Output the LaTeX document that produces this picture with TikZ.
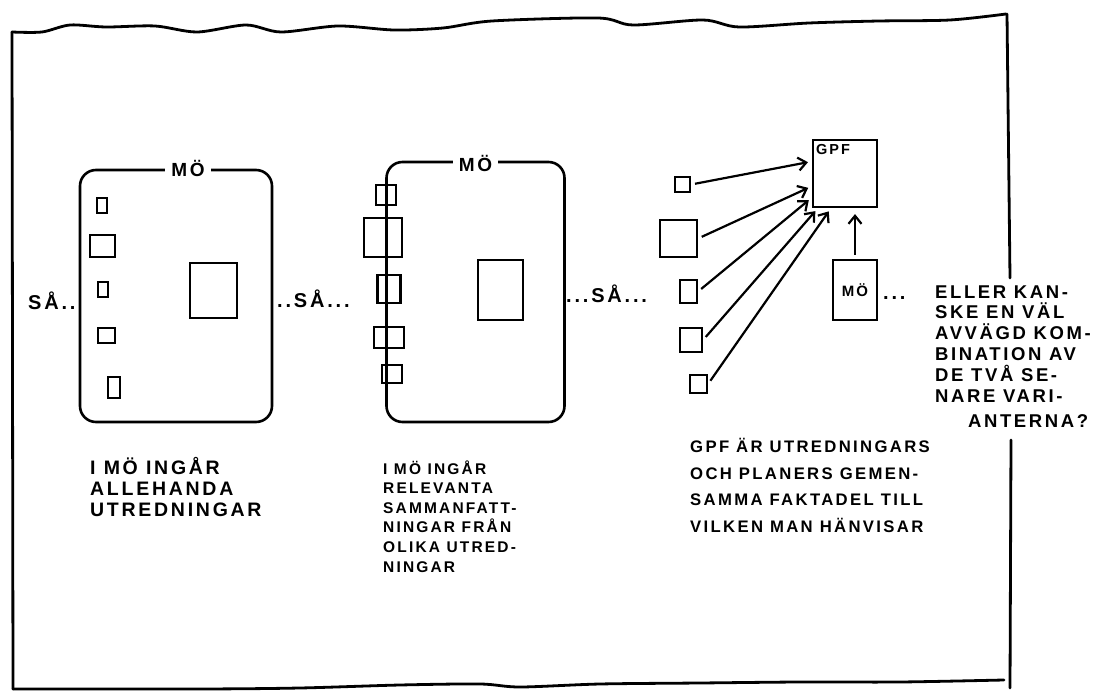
\documentclass[tikz,border=0pt]{standalone}
\usepackage{fontspec}
\setmainfont{Liberation Sans}
\newfontfamily\hand[LetterSpace=14]{Liberation Sans}
\usetikzlibrary{arrows.meta, positioning}

\begin{document}
\begin{tikzpicture}[x=1pt, y=-1pt,
        node distance=4pt and 5pt,
        sheet/.style={line width=2.8pt, line cap=round, line join=round},
        mobox/.style={rectangle, draw, rounded corners=16pt, line width=2.6pt, inner sep=0pt},
        doc/.style={rectangle, draw, line width=2.2pt, inner sep=0pt},
        tag/.style={fill=white, inner xsep=6pt, inner ysep=1pt, font=\hand\bfseries\fontsize{19}{21}\selectfont},
        dots/.style={anchor=base west, inner sep=0pt, font=\hand\bfseries\fontsize{20}{22}\selectfont},
        note/.style={anchor=base west, align=left, inner sep=0pt},
        arrow/.style={-{Straight Barb[length=8pt, width=13pt]}, line width=2.2pt, shorten <=4pt, shorten >=4pt}
    ]
        \useasboundingbox (0,0) rectangle (1103,692);

        % the sheet
        \draw[sheet] plot[smooth, tension=0.5] coordinates {(12,32) (42,32) (70,25) (106,27) (155,26) (197,32) (246,25) (281,32) (338,26) (394,30) (443,28) (492,21) (598,18) (633,25) (703,20) (739,27) (809,23) (879,21) (950,20) (1006,14)};
        \draw[sheet] (12,32) -- (13,689);
        \draw[sheet] plot[smooth, tension=0.5] coordinates {(13,689) (200,689) (300,688) (400,685) (480,684) (520,687) (600,684) (700,683) (800,682) (900,682) (1004,680)};
        \draw[sheet] (1007,14) -- (1010,278);
        \draw[sheet] (1011,440) -- (1010,688);

        % first variant
        \node[mobox, minimum width=192pt, minimum height=252pt] (mo1) at (176,296) {};
        \node[tag] (mo1lbl) at ([xshift=12pt]mo1.north) {MÖ};
        \node[doc, minimum width=47pt, minimum height=55pt] (core1) at (213.5,290.5) {};
        \node[doc, minimum width=10pt, minimum height=15pt] (a1) at (102,205.5) {};
        \node[doc, minimum width=25pt, minimum height=22pt] (a2) at (102.5,246) {};
        \node[doc, minimum width=10pt, minimum height=15pt] (a3) at (103,289.5) {};
        \node[doc, minimum width=17pt, minimum height=15pt] (a4) at (106.5,335.5) {};
        \node[doc, minimum width=12pt, minimum height=21pt] (a5) at (114,387.5) {};
        \node[dots] (so1) at (28,310) {SÅ..};
        \node[note, font=\hand\bfseries\fontsize{19.5}{21}\selectfont] (txt1) at (90,516) {I MÖ INGÅR\\ALLEHANDA\\UTREDNINGAR};

        % second variant
        \node[mobox, minimum width=178pt, minimum height=260pt] (mo2) at (475.5,292) {};
        \node[tag] (mo2lbl) at ([yshift=-3pt]mo2.north) {MÖ};
        \node[doc, minimum width=45pt, minimum height=60pt] (core2) at (500.5,290) {};
        \node[doc, minimum width=20pt, minimum height=20pt] (b1) at (386,195) {};
        \node[doc, minimum width=38pt, minimum height=39pt] (b2) at (383,237.5) {};
        \node[doc, minimum width=23pt, minimum height=28pt] (b3) at (389,289) {};
        \node[doc, minimum width=30pt, minimum height=21pt] (b4) at (389,337.5) {};
        \node[doc, minimum width=20pt, minimum height=18pt] (b5) at (392,374) {};
        \node[dots] (so2) at (277,308) {..SÅ...};
        \node[note, font=\hand\bfseries\fontsize{15.5}{19.6}\selectfont] (txt2) at (383,572) {I MÖ INGÅR\\RELEVANTA\\SAMMANFATT-\\NINGAR FRÅN\\OLIKA UTRED-\\NINGAR};

        % third variant
        \node[doc, minimum width=64pt, minimum height=67pt] (gpf) at (845,173.5) {};
        \node[below right=5pt and 4pt of gpf.north west, inner sep=0pt, font=\hand\bfseries\fontsize{14.5}{16}\selectfont] (gpflbl) {GPF};
        \node[doc, minimum width=44pt, minimum height=60pt, font=\hand\bfseries\fontsize{15}{16}\selectfont] (mo3) at (855,290) {MÖ};
        \node[doc, minimum width=15pt, minimum height=15pt] (c1) at (682.5,184.5) {};
        \node[doc, minimum width=37pt, minimum height=37pt] (c2) at (678.5,238.5) {};
        \node[doc, minimum width=17pt, minimum height=23pt] (c3) at (688.5,291.5) {};
        \node[doc, minimum width=22pt, minimum height=24pt] (c4) at (691,340) {};
        \node[doc, minimum width=17pt, minimum height=18pt] (c5) at (698.5,384) {};
        \node[dots] (so3) at (566,303) {...SÅ...};
        \node[note, font=\hand\bfseries\fontsize{16.7}{26.5}\selectfont] (txt3) at (690,532) {GPF ÄR UTREDNINGARS\\OCH PLANERS GEMEN-\\SAMMA FAKTADEL TILL\\VILKEN MAN HÄNVISAR};

        \draw[arrow] (c1.east) -- (gpf.160);
        \draw[arrow] (c2.east) -- (gpf.201);
        \draw[arrow] (c3.east) -- (gpf.216);
        \draw[arrow] (c4.east) -- (gpf.232);
        \draw[arrow] (c5.east) -- (gpf.248);
        \draw[arrow, shorten >=6pt] (mo3.north) -- (mo3.north |- gpf.south);

        % or both
        \node[dots] (so4) at (883,300) {...};
        \node[note, font=\hand\bfseries\fontsize{18.5}{21}\selectfont] (txt4) at (935,428) {ELLER KAN-\\SKE EN VÄL\\AVVÄGD KOM-\\BINATION AV\\DE TVÅ SE-\\NARE VARI-\\[4pt]\hspace*{33pt}ANTERNA?};
    \end{tikzpicture}
\end{document}
